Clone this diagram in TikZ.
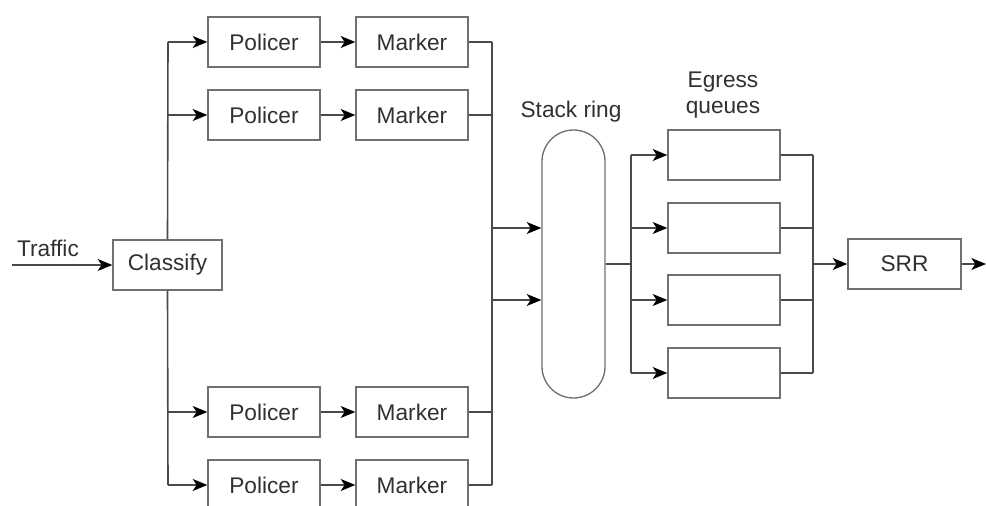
\documentclass[tikz,border=0pt]{standalone}
\usepackage{fontspec}
\setmainfont{Liberation Sans}
\usetikzlibrary{arrows.meta,positioning}
\definecolor{wirecol}{HTML}{4A4A4A}
\definecolor{boxcol}{HTML}{707070}
\definecolor{txtcol}{HTML}{303030}
\tikzset{
  blk/.style={draw=boxcol, line width=1pt, minimum width=84pt, minimum height=37.5pt,
    inner sep=0pt, text=txtcol, font=\fontsize{17}{20}\selectfont},
  lbl/.style={text=txtcol, inner sep=0pt, font=\fontsize{17}{20}\selectfont},
  wire/.style={draw=wirecol, line width=1.2pt},
  arr/.style={wire, -{Stealth[length=11pt,width=9pt,inset=3pt,color=black]}},
}
\begin{document}
\begin{tikzpicture}[x=0.75pt,y=-0.75pt]
  \useasboundingbox (0,0) rectangle (986,506);

  % policer / marker rows
  \foreach \r/\y in {1/42,2/115,3/412,4/485} {
    \node[blk] (pol\r) at (264,\y) {Policer};
    \node[blk] (mrk\r) at (412,\y) {Marker};
    \coordinate (inb\r) at (168,\y);
    \coordinate (outb\r) at (492,\y);
    \draw[arr] (inb\r) -- (pol\r);
    \draw[arr] (pol\r) -- (mrk\r);
    \draw[wire] (mrk\r) -- (outb\r);
  }

  % classifier
  \node[blk, minimum width=81.75pt] (cls) at (167.5,265) {Classify};
  \coordinate (trf) at (12,265);
  \node[lbl] (trflbl) at (48,248) {Traffic};
  \draw[arr] (trf) -- (cls);
  \draw[wire] (inb1) -- (cls.north);
  \draw[wire] (cls.south) -- (inb4);
  \draw[wire] (outb1) -- (outb4);

  % stack ring
  \node[draw=boxcol, line width=1pt, rounded corners=23.6pt, minimum width=47.25pt,
    minimum height=201pt] (ring) at (573.5,264) {};
  \node[lbl] (ringlbl) at (571,112) {Stack ring};
  \coordinate (rin1) at (492,228);
  \coordinate (rin2) at (492,300);
  \draw[arr] (rin1) -- (rin1 -| ring.west);
  \draw[arr] (rin2) -- (rin2 -| ring.west);
  \coordinate (qbus) at (631,264);
  \draw[wire] (ring.east) -- (qbus);

  % egress queues
  \node[lbl, align=center] (quelbl) at (723,95) {Egress\\queues};
  \foreach \q/\y in {1/155,2/228,3/300,4/373} {
    \node[blk] (que\q) at (724,\y) {};
    \coordinate (qin\q) at (631,\y);
    \coordinate (qout\q) at (813,\y);
    \draw[arr] (qin\q) -- (que\q);
    \draw[wire] (que\q) -- (qout\q);
  }
  \draw[wire] (qin1) -- (qin4);
  \draw[wire] (qout1) -- (qout4);

  % scheduler
  \node[blk, minimum width=84.75pt] (srr) at (904.5,264) {SRR};
  \coordinate (sbus) at (813,264);
  \coordinate (sout) at (986,264);
  \draw[arr] (sbus) -- (srr);
  \draw[arr] (srr) -- (sout);
\end{tikzpicture}
\end{document}
